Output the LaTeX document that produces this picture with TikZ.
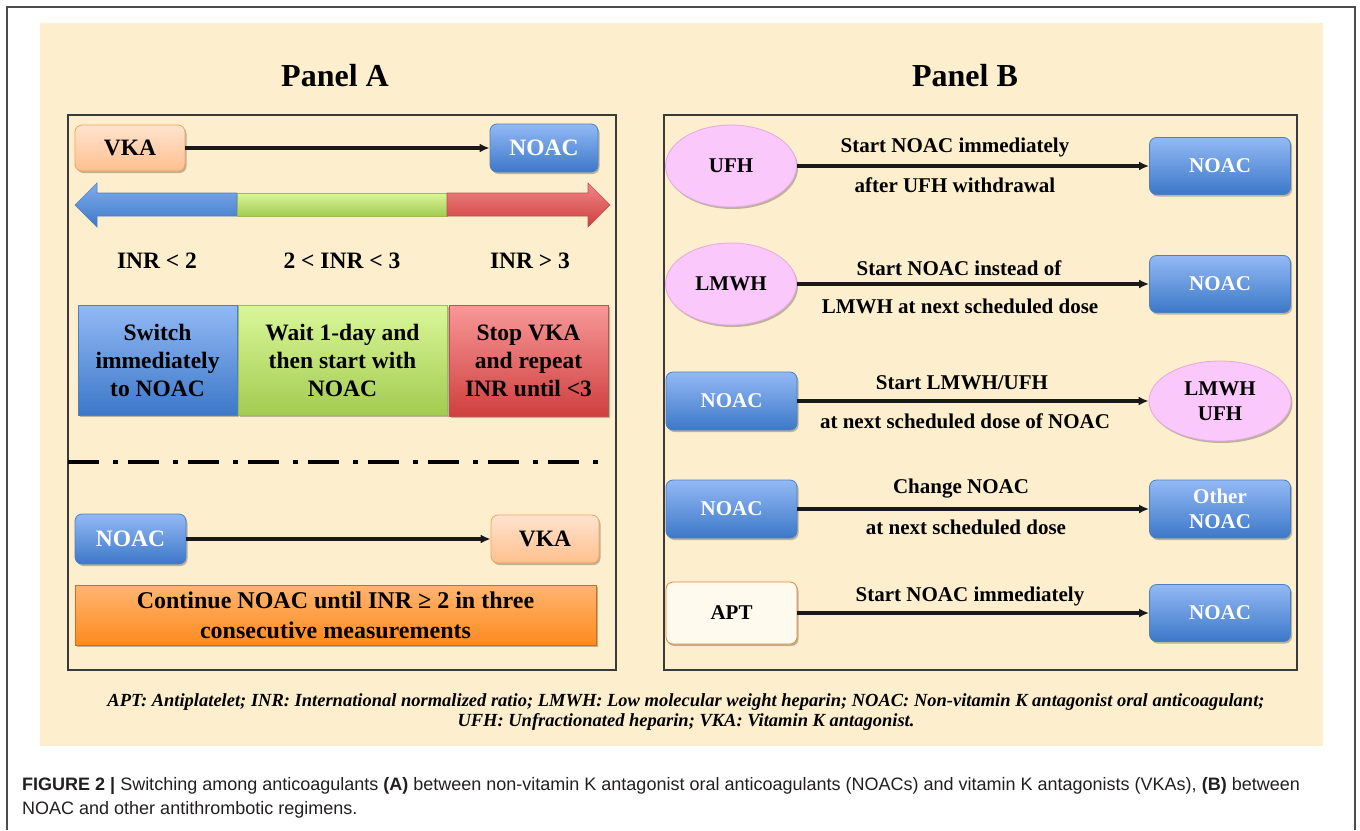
\documentclass[tikz,border=0pt]{standalone}
\usepackage{fontspec}
\setmainfont{Liberation Serif}
\newfontfamily\capfont{Liberation Sans}
\usetikzlibrary{arrows.meta,shapes.geometric,shadows}
\definecolor{beige}{HTML}{FDEFCD}
\definecolor{blueTop}{HTML}{93B9F5}
\definecolor{blueBot}{HTML}{3C78C8}
\definecolor{blueLine}{HTML}{4D7FC2}
\definecolor{peachTop}{HTML}{FFE3CF}
\definecolor{peachBot}{HTML}{FFC08F}
\definecolor{peachLine}{HTML}{F2A25E}
\definecolor{greenTop}{HTML}{DAF79A}
\definecolor{greenBot}{HTML}{A3CB50}
\definecolor{greenLine}{HTML}{9BBB59}
\definecolor{redTop}{HTML}{F89898}
\definecolor{redBot}{HTML}{CF3F3F}
\definecolor{redLine}{HTML}{C0504D}
\definecolor{orTop}{HTML}{FFB572}
\definecolor{orBot}{HTML}{FF8A1E}
\definecolor{pinkFill}{HTML}{FAC8FA}
\definecolor{pinkLine}{HTML}{E4A8E4}
\definecolor{aptFill}{HTML}{FFF9EE}
\definecolor{aptLine}{HTML}{E0873A}
\definecolor{capcol}{HTML}{231F20}
\definecolor{frameA}{HTML}{3A3A3A}
\tikzset{
  fA/.style={font=\bfseries\fontsize{23.5}{28}\selectfont},
  fB/.style={font=\bfseries\fontsize{21}{25}\selectfont},
  shad/.style={drop shadow={shadow xshift=1.5pt,shadow yshift=-2pt,opacity=0.25,fill=black}},
  bluebox/.style={shad,rounded corners=7pt,top color=blueTop,bottom color=blueBot,draw=blueLine,line width=0.8pt,text=white,inner sep=0pt,align=center},
  peachbox/.style={shad,rounded corners=7pt,top color=peachTop,bottom color=peachBot,draw=peachLine,line width=0.8pt,text=black,inner sep=0pt},
  pinkell/.style={shad,ellipse,fill=pinkFill,draw=pinkLine,line width=0.8pt,inner sep=0pt,align=center},
  aptbox/.style={shad,rounded corners=7pt,fill=aptFill,draw=aptLine,line width=0.8pt,inner sep=0pt},
  flatbox/.style={shad,inner sep=0pt,align=center,line width=0.6pt},
  conn/.style={line width=3.2pt,draw=black!90,-{Latex[length=10pt,width=9pt]}},
  lbl/.style={fB,inner sep=0pt},
  panelframe/.style={draw=frameA,line width=1.1pt},
}
\begin{document}
\begin{tikzpicture}[x=1pt,y=-1pt]
\useasboundingbox (0,0) rectangle (1360,830);
\fill[white] (0,0) rectangle (1360,830);
% outer frame
\draw[gray!60!black,line width=1.5pt] (7,830) -- (7,7) -- (1355,7) -- (1355,830);
% beige background
\fill[beige] (40,23) rectangle (1323,746);
% titles
\node[font=\bfseries\fontsize{32}{38}\selectfont] (tA) at (335,76) {Panel A};
\node[font=\bfseries\fontsize{32}{38}\selectfont] (tB) at (965,76) {Panel B};
% panel frames
\draw[panelframe] (68,115) rectangle (616,670);
\draw[panelframe] (664,115) rectangle (1297,670);

% ---------- Panel A ----------
\node[peachbox,fA,minimum width=110pt,minimum height=46pt] (vka1) at (130,148) {VKA};
\node[bluebox,fA,minimum width=108pt,minimum height=48pt] (noac1) at (544,148) {NOAC};
\draw[conn] (vka1.east) -- (noac1.west);

% double arrow bar
\draw[draw=blueLine,line width=0.6pt,top color=blueTop!80!blueBot,bottom color=blueBot]
  (75,205) -- (97,183) -- (97,193) -- (237,193) -- (237,216) -- (97,216) -- (97,227) -- cycle;
\draw[draw=greenLine,line width=0.6pt,top color=greenTop,bottom color=greenBot]
  (237,193) rectangle (447,216);
\draw[draw=redLine,line width=0.6pt,top color=redTop!80!redBot,bottom color=redBot]
  (447,193) -- (588,193) -- (588,183) -- (610,205) -- (588,227) -- (588,216) -- (447,216) -- cycle;

\node[fA] (inr1) at (157,261) {INR < 2};
\node[fA] (inr2) at (342,261) {2 < INR < 3};
\node[fA] (inr3) at (530,261) {INR > 3};

\node[flatbox,fA,top color=blueTop,bottom color=blueBot,draw=blueLine,minimum width=159pt,minimum height=110pt] (sw) at (157.5,360) {Switch\\immediately\\to NOAC};
\node[flatbox,fA,top color=greenTop,bottom color=greenBot,draw=greenLine,minimum width=209pt,minimum height=110pt] (wt) at (342.5,360) {Wait 1-day and\\then start with\\NOAC};
\node[flatbox,fA,top color=redTop,bottom color=redBot,draw=redLine,minimum width=159pt,minimum height=111pt] (st) at (528.5,360.5) {Stop VKA\\and repeat\\INR until <3};

\coordinate (d1) at (68,462);
\coordinate (d2) at (600,462);
\draw[line width=4pt,black,dash pattern=on 31pt off 14pt on 5pt off 10pt] (d1) -- (d2);

\node[bluebox,fA,minimum width=111pt,minimum height=50pt] (noac2) at (130.5,539) {NOAC};
\node[peachbox,fA,minimum width=108pt,minimum height=48pt] (vka2) at (545,539) {VKA};
\draw[conn] (noac2.east) -- (vka2.west);

\node[flatbox,font=\bfseries\fontsize{24}{30}\selectfont,top color=orTop,bottom color=orBot,draw=orBot!80!black,minimum width=521pt,minimum height=60pt] (cont) at (335.5,615) {Continue NOAC until INR ≥ 2 in three\\consecutive measurements};

% ---------- Panel B ----------
% row 1
\node[pinkell,fB,minimum width=131pt,minimum height=82pt] (ufh) at (731,166) {UFH};
\node[bluebox,fB,minimum width=141pt,minimum height=57pt] (nb1) at (1220,166) {NOAC};
\draw[conn] (ufh.east) -- (nb1.west);
\node[lbl] (l1a) at (955,147) {Start NOAC immediately};
\node[lbl] (l1b) at (955,185) {after UFH withdrawal};
% row 2
\node[pinkell,fB,minimum width=131pt,minimum height=82pt] (lmwh) at (731,284) {LMWH};
\node[bluebox,fB,minimum width=141pt,minimum height=57pt] (nb2) at (1220,284) {NOAC};
\draw[conn] (lmwh.east) -- (nb2.west);
\node[lbl] (l2a) at (959,268) {Start NOAC instead of};
\node[lbl] (l2b) at (960,306) {LMWH at next scheduled dose};
% row 3
\node[bluebox,fB,minimum width=131pt,minimum height=58pt] (nb3) at (731.5,401) {NOAC};
\node[pinkell,fB,minimum width=142pt,minimum height=80pt] (lu) at (1220,401) {LMWH\\UFH};
\draw[conn] (nb3.east) -- (lu.west);
\node[lbl] (l3a) at (962,383) {Start LMWH/UFH};
\node[lbl] (l3b) at (965,421) {at next scheduled dose of NOAC};
% row 4
\node[bluebox,fB,minimum width=131pt,minimum height=58pt] (nb4) at (731.5,509) {NOAC};
\node[bluebox,fB,minimum width=141pt,minimum height=58pt] (oth) at (1220,509) {Other\\NOAC};
\draw[conn] (nb4.east) -- (oth.west);
\node[lbl] (l4a) at (961,489) {Change NOAC};
\node[lbl] (l4b) at (966,527) {at next scheduled dose};
% row 5
\node[aptbox,fB,minimum width=131pt,minimum height=62pt] (apt) at (731.5,613) {APT};
\node[bluebox,fB,minimum width=141pt,minimum height=57pt] (nb5) at (1220,613) {NOAC};
\draw[conn] (apt.east) -- (nb5.west);
\node[lbl] (l5a) at (970,596) {Start NOAC immediately};

% legend
\node[font=\bfseries\itshape\fontsize{18.5}{20.5}\selectfont,align=center,inner sep=0pt] (leg) at (686,712) {APT: Antiplatelet; INR: International normalized ratio; LMWH: Low molecular weight heparin; NOAC: Non-vitamin K antagonist oral anticoagulant;\\UFH: Unfractionated heparin; VKA: Vitamin K antagonist.};

% caption
\node[font=\capfont\fontsize{18}{24.5}\selectfont,text=capcol,align=left,anchor=north west,inner sep=0pt] (cap) at (22,777) {\textbf{FIGURE 2 |} Switching among anticoagulants \textbf{(A)} between non-vitamin K antagonist oral anticoagulants (NOACs) and vitamin K antagonists (VKAs), \textbf{(B)} between\\NOAC and other antithrombotic regimens.};
\end{tikzpicture}
\end{document}
